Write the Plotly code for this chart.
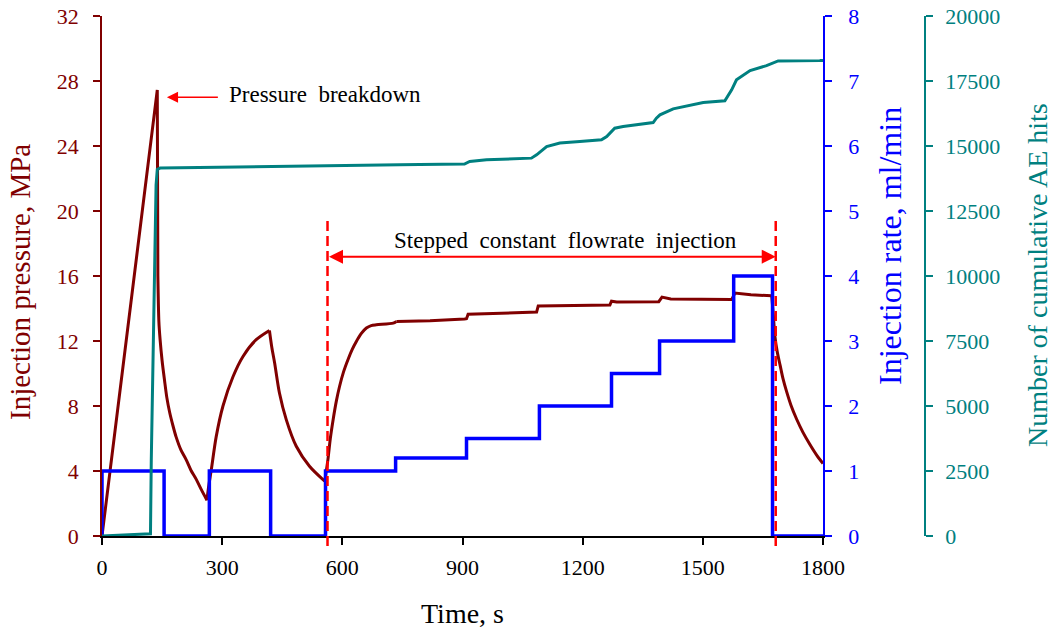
import plotly.graph_objects as go

# ---- data -------------------------------------------------------------
# injection pressure (MPa) vs time (s)
p_time = [0, 138, 139.5, 142, 145, 150, 156, 162, 169, 177, 185, 197, 210, 222, 235, 248, 262,
          266, 273, 285, 302, 327, 352, 385, 418,
          424, 431, 443, 460, 485, 518, 556,
          564, 570, 577, 585, 593, 603, 614, 625, 635, 647, 660, 672, 685, 727, 735,
          819, 905, 910, 914, 1060, 1085, 1089, 1243, 1268, 1272, 1285, 1390, 1398, 1420,
          1572, 1580, 1620, 1672,
          1676, 1680, 1686, 1693, 1700, 1709, 1720, 1734, 1750, 1767, 1785, 1800]
p_value = [0, 27.45, 16.0, 13.2, 12.1, 10.8, 9.6, 8.5, 7.6, 6.8, 6.1, 5.3, 4.7, 4.05, 3.5, 2.85, 2.2,
           3.0, 4.1, 6.1, 8.0, 9.8, 11.05, 12.08, 12.65,
           11.6, 10.65, 8.8, 7.16, 5.52, 4.29, 3.37,
           4.7, 6.0, 7.16, 8.3, 9.2, 10.1, 10.85, 11.5, 11.97, 12.45, 12.8, 12.95, 13.0, 13.1, 13.2,
           13.24, 13.35, 13.37, 13.65, 13.76, 13.78, 14.15, 14.2, 14.22, 14.45, 14.4, 14.42, 14.7, 14.58,
           14.55, 14.95, 14.85, 14.78,
           13.6, 12.28, 11.3, 10.5, 9.7, 8.9, 8.05, 7.2, 6.38, 5.65, 4.95, 4.46]

# times where the pressure record has a sharp corner, and the spans between
# them that are smooth build-up / fall-off curves
p_corners = [0, 139.5, 262, 418, 556, 735, 1672, 1800]
p_smooth = [(139.5, 262), (262, 418), (418, 556), (556, 735), (1672, 1800)]

# injection rate (ml/min), stepwise
q_time = [0, 0, 155, 268, 421, 558, 733, 910, 1092, 1272, 1392, 1577, 1674, 1800]
q_value = [0, 1, 0, 1, 0, 1, 1.2, 1.5, 2, 2.5, 3, 4, 0, 0]

# cumulative acoustic-emission hits
ae_time = [0, 60, 121, 123, 127, 131, 135, 138, 145, 339, 518, 743, 793, 905, 918, 960,
           1072, 1085, 1110, 1143, 1193, 1247, 1260, 1280, 1301, 1376, 1384, 1393, 1426,
           1501, 1555, 1572, 1584, 1618, 1659, 1688, 1792, 1800]
ae_value = [0, 40, 85, 2900, 6500, 9860, 13500, 14100, 14150, 14190, 14240, 14275, 14285, 14303, 14404, 14469,
            14533, 14661, 14980, 15111, 15172, 15237, 15365, 15686, 15749, 15903, 16070, 16198, 16429,
            16671, 16736, 17159, 17543, 17901, 18093, 18273, 18285, 18290]

# stage boundaries of the stepped injection (s)
stage_start, stage_end = 563, 1682

# ---- style ------------------------------------------------------------
FONT = "Liberation Serif"
MAROON = "#800000"
BLUE = "#0000FF"
TEAL = "#008080"
RED = "#FF0000"

W, H = 1052, 634
ML, MR, MT, MB = 102, 127, 16, 98
PW, PH = W - ML - MR, H - MT - MB


def px_x(px):
    return (px - ML) / PW


def px_y(py):
    return (H - MB - py) / PH


fig = go.Figure()
fig.add_trace(go.Scatter(x=q_time, y=q_value, yaxis="y2", mode="lines", line_shape="hv",
                         line=dict(color=BLUE, width=3.5), showlegend=False))
fig.add_trace(go.Scatter(x=ae_time, y=ae_value, yaxis="y3", mode="lines",
                         line=dict(color=TEAL, width=3), showlegend=False))

# pressure record, drawn piece by piece so the curved parts are smoothed
# while the kinks stay sharp
for t0, t1 in zip(p_corners[:-1], p_corners[1:]):
    seg = [(t, v) for t, v in zip(p_time, p_value) if t0 <= t <= t1]
    smooth = (t0, t1) in p_smooth
    fig.add_trace(go.Scatter(x=[s[0] for s in seg], y=[s[1] for s in seg], yaxis="y",
                             mode="lines",
                             line=dict(color=MAROON, width=3,
                                       shape="spline" if smooth else "linear",
                                       smoothing=0.8 if smooth else None),
                             showlegend=False))

fig.update_layout(
    width=W, height=H,
    margin=dict(l=ML, r=MR, t=MT, b=MB, autoexpand=False),
    paper_bgcolor="white", plot_bgcolor="white",
    font=dict(family=FONT, color="black"),
    xaxis=dict(domain=[0, (823 - ML) / PW], range=[0, 1800], dtick=300, tick0=0,
               showline=True, linecolor="black", linewidth=1.5,
               ticks="outside", ticklen=7, tickcolor="black", tickwidth=1.5,
               tickfont=dict(family=FONT, size=22, color="black"), ticklabelstandoff=4,
               showgrid=False, zeroline=False),
    yaxis=dict(range=[0, 32], dtick=4, tick0=0,
               showline=True, linecolor=MAROON, linewidth=1.5,
               ticks="outside", ticklen=7, tickcolor=MAROON, tickwidth=1.5,
               tickfont=dict(family=FONT, size=22, color=MAROON), ticklabelstandoff=10,
               showgrid=False, zeroline=False),
    yaxis2=dict(overlaying="y", side="right", anchor="x", range=[0, 8], dtick=1, tick0=0,
                showline=True, linecolor=BLUE, linewidth=1.5,
                ticks="outside", ticklen=7, tickcolor=BLUE, tickwidth=1.5,
                tickfont=dict(family=FONT, size=22, color=BLUE), ticklabelstandoff=12,
                showgrid=False, zeroline=False),
    yaxis3=dict(overlaying="y", side="right", anchor="free", position=1.0,
                range=[0, 20000], dtick=2500, tick0=0, tickformat="d",
                showline=True, linecolor=TEAL, linewidth=1.5,
                ticks="outside", ticklen=7, tickcolor=TEAL, tickwidth=1.5,
                tickfont=dict(family=FONT, size=22, color=TEAL), ticklabelstandoff=8,
                showgrid=False, zeroline=False),
)

# axis titles
titles = [
    dict(text="Injection pressure, MPa", x=px_x(20), y=px_y(282), size=29, color=MAROON),
    dict(text="Injection rate, ml/min", x=px_x(890), y=px_y(246), size=32, color=BLUE),
    dict(text="Number of cumulative AE hits", x=px_x(1037), y=px_y(275), size=28, color=TEAL),
]
for t in titles:
    fig.add_annotation(text=t["text"], x=t["x"], y=t["y"], xref="paper", yref="paper",
                       textangle=-90, showarrow=False, xanchor="center", yanchor="middle",
                       font=dict(family=FONT, size=t["size"], color=t["color"]))
fig.add_annotation(text="Time, s", x=px_x(462.5), y=px_y(613), xref="paper", yref="paper",
                   showarrow=False, xanchor="center", yanchor="middle",
                   font=dict(family=FONT, size=28, color="black"))

# breakdown marker
fig.add_annotation(x=162, y=27.0, ax=293, ay=27.0, xref="x", yref="y", axref="x", ayref="y",
                   text="", showarrow=True, arrowhead=2, arrowsize=1.4, arrowwidth=1.6,
                   arrowcolor=RED, standoff=0)
fig.add_annotation(text="Pressure\u00a0 breakdown", x=313, y=27.2, xref="x", yref="y",
                   xanchor="left", yanchor="middle", showarrow=False,
                   font=dict(family=FONT, size=23, color="black"))

# stepped-injection stage: boundaries and span arrow
for t in (stage_start, stage_end):
    fig.add_shape(type="line", x0=t, x1=t, xref="x", yref="paper",
                  y0=px_y(546), y1=px_y(218),
                  line=dict(color=RED, width=2.5, dash="10px,5px"))
fig.add_annotation(x=stage_end, y=17.19, ax=stage_start, ay=17.19, xref="x", yref="y",
                   axref="x", ayref="y", text="", showarrow=True, arrowhead=2,
                   arrowside="end+start", arrowsize=1.4, arrowwidth=2, arrowcolor=RED,
                   standoff=0, startstandoff=0)
fig.add_annotation(text="Stepped\u00a0 constant\u00a0 flowrate\u00a0 injection",
                   x=1156, y=18.2, xref="x", yref="y",
                   xanchor="center", yanchor="middle", showarrow=False,
                   font=dict(family=FONT, size=23, color="black"))

fig.write_html("out.html")
